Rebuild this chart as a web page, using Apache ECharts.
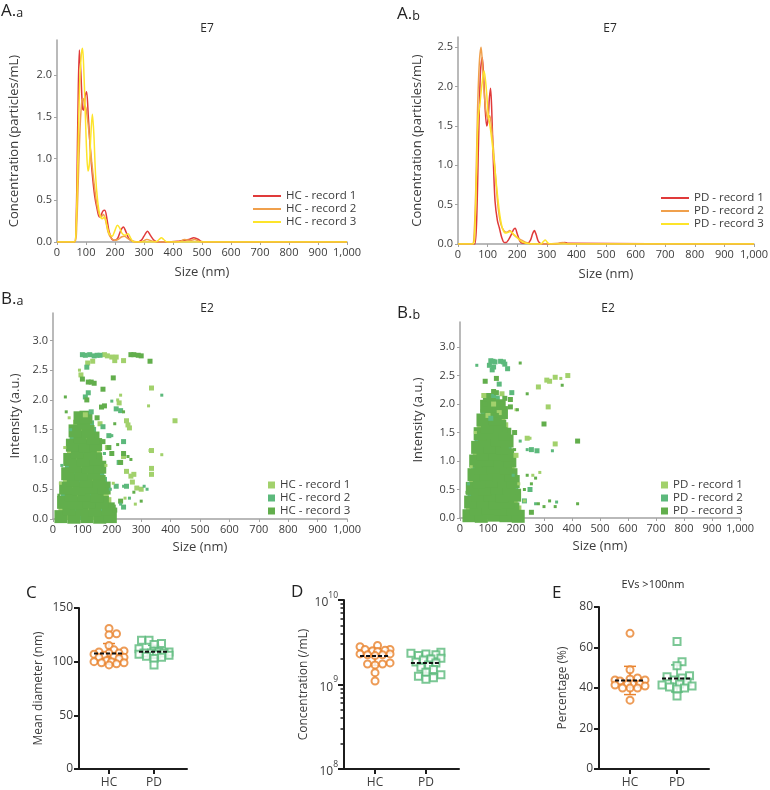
<!DOCTYPE html>
<html><head><meta charset="utf-8">
<script src="https://cdn.jsdelivr.net/npm/echarts@6/dist/echarts.min.js"></script>
<style>html,body{margin:0;padding:0;background:#fff}#c{width:770px;height:790px}</style>
</head><body><div id="c"></div>
<script>
// ================= DATA =================
// Panel A.a (HC, E7) size distributions
const aHC1Size = [0,60,66,72,77,82,88,92,97,102,108,115,122,130,138,146,152,158,165,172,180,190,200,210,220,229,238,248,260,275,290,300,312,322,335,350,380,420,440,455,472,488,500,600,1000];
const aHC1Conc = [0,0,0.25,1.5,2.3,2.05,1.6,1.58,1.75,1.8,1.5,1.1,0.8,0.55,0.4,0.3,0.32,0.37,0.38,0.28,0.12,0.03,0.02,0.05,0.14,0.18,0.12,0.04,0.01,0,0.02,0.07,0.13,0.08,0.02,0,0,0.01,0.02,0.03,0.05,0.03,0,0,0];
const aHC2Size = [0,62,68,74,80,86,90,95,100,106,112,120,128,136,144,152,160,168,176,186,198,210,222,232,245,260,290,310,330,360,420,440,460,475,490,520,1000];
const aHC2Conc = [0,0,0.2,0.8,1.4,1.7,1.72,1.65,1.6,1.45,1.25,0.95,0.7,0.48,0.35,0.3,0.33,0.25,0.12,0.05,0.02,0.03,0.06,0.07,0.04,0.01,0,0.03,0.01,0,0,0.03,0.02,0.03,0.01,0,0];
const aHC3Size = [0,60,66,72,78,84,88,92,97,102,107,112,117,122,127,133,140,148,156,164,172,180,190,200,208,216,225,235,245,255,265,280,340,352,360,368,380,1000];
const aHC3Conc = [0,0,0.2,1.0,1.9,2.25,2.32,2.1,1.6,1.1,0.85,0.95,1.3,1.53,1.3,0.8,0.5,0.32,0.28,0.3,0.2,0.1,0.07,0.14,0.2,0.17,0.1,0.08,0.1,0.04,0,0,0,0.03,0.05,0.03,0,0];
// Panel A.b (PD, E7)
const aPD1Size = [0,50,57,63,70,76,82,87,92,97,102,106,110,114,119,125,133,140,148,156,163,170,180,187,193,200,210,220,235,245,252,258,264,272,285,300,330,350,360,370,1000];
const aPD1Conc = [0,0,0,0.3,1.4,2.2,2.37,2.1,1.7,1.5,1.6,1.85,1.98,1.7,1.1,0.55,0.3,0.2,0.08,0.02,0.02,0.05,0.12,0.18,0.2,0.13,0.03,0.01,0.01,0.05,0.13,0.17,0.12,0.03,0,0,0,0.01,0.02,0.01,0];
const aPD2Size = [0,48,54,60,66,72,78,84,90,96,102,107,113,120,128,136,145,155,165,175,185,200,215,230,250,300,340,355,370,1000];
const aPD2Conc = [0,0,0.1,0.7,1.7,2.3,2.5,2.2,1.85,1.65,1.6,1.63,1.5,1.2,0.8,0.45,0.25,0.17,0.15,0.17,0.13,0.08,0.05,0.02,0,0,0.01,0.02,0,0];
const aPD3Size = [0,50,56,62,68,74,80,88,95,102,110,118,126,134,142,150,160,170,178,186,195,205,215,230,250,280,288,295,302,310,1000];
const aPD3Conc = [0,0,0.1,0.8,1.6,1.78,2.0,2.2,2.0,1.65,1.45,1.2,0.9,0.6,0.35,0.2,0.14,0.15,0.16,0.13,0.1,0.06,0.03,0.01,0,0,0.03,0.05,0.02,0,0];

// Panel B.a (HC, E2) scatter [size nm, intensity a.u.]
const bHC1Core = [[49,.05],[137,.05],[32,.16],[120,.17],[102,.28],[185,.3],[84,.39],[176,.4],[65,.53],[153,.51],[47,.64],[135,.65],[116,.76],[98,.87],[79,1.01],[155,.99],[61,1.12],[149,1.13],[132,1.24],[114,1.35],[97,1.49],[82,1.6]];
const bHC2Core = [[93,.05],[181,.05],[76,.15],[164,.16],[58,.29],[146,.27],[40,.4],[128,.41],[109,.52],[91,.63],[170,.64],[72,.77],[161,.75],[54,.88],[142,.89],[123,1],[105,1.11],[88,1.25],[70,1.36],[133,1.48],[126,1.59]];
const bHC3Core = [[27,.04],[71,.03],[115,.04],[159,.03],[195,.04],[54,.17],[98,.16],[142,.15],[188,.17],[36,.28],[80,.27],[124,.29],[168,.28],[62,.41],[106,.4],[150,.39],[43,.52],[87,.51],[131,.53],[174,.52],[69,.65],[113,.64],[157,.63],[50,.76],[94,.75],[138,.77],[76,.89],[120,.88],[159,.87],[57,1],[101,.99],[145,1.01],[83,1.13],[127,1.12],[66,1.24],[110,1.23],[145,1.25],[92,1.37],[136,1.36],[75,1.48],[119,1.47],[104,1.61],[92,1.7],[112,1.71]];
const bHC1Big = [[95,2.42],[118,2.62],[135,2.65],[175,2.76],[185,2.74],[200,2.72],[210,2.66],[240,2.66],[215,2.72],[225,1.95],[250,1.65],[255,1.58],[260,1.53],[415,1.65],[335,2.2],[335,1.15],[240,1.05],[335,0.85],[250,0.8],[265,0.72],[275,0.75],[285,0.52],[300,0.5],[185,1.2],[160,1.6],[110,1.75],[335,0.75],[270,0.62]];
const bHC1Small = [[90,2.5],[220,2.0],[325,1.9],[370,1.08],[230,2.08],[330,1.15],[205,0.6],[245,0.35],[280,0.25],[180,0.9],[55,1.7],[40,1.2],[25,0.6]];
const bHC2Big = [[100,2.76],[110,2.75],[125,2.76],[140,2.74],[150,2.75],[160,2.75],[115,2.55],[110,2.05],[120,2.12],[215,1.85],[230,1.82],[240,1.3],[215,0.55],[250,0.55],[225,0.95],[240,0.2],[130,1.8],[170,1.55],[190,1.4]];
const bHC2Small = [[370,2.08],[200,1.98],[200,1.4],[240,0.55],[320,0.5],[310,0.55],[260,0.35],[175,1.1],[230,0.25],[60,1.5],[30,0.9],[195,0.5]];
const bHC3Big = [[265,2.76],[275,2.76],[290,2.75],[300,2.74],[330,2.65],[100,2.35],[120,2.3],[130,2.3],[140,2.28],[205,2.37],[170,2.18],[115,2.0],[175,1.9],[165,1.88],[190,1.2],[200,1.1],[230,0.95],[240,1.1],[230,0.3],[205,0.2],[210,0.15],[170,1.3],[150,1.7]];
const bHC3Small = [[42,2.05],[220,1.25],[255,1.05],[275,0.45],[300,0.3],[45,1.8],[20,0.4],[210,1.6],[240,1.8],[265,1.0]];
// Panel B.b (PD, E2)
const bPD1Core = [[54,.04],[142,.05],[35,.16],[123,.17],[205,.15],[104,.28],[192,.29],[85,.4],[173,.41],[66,.52],[154,.53],[47,.64],[135,.65],[116,.76],[97,.88],[181,.87],[78,1],[166,1.01],[60,1.12],[148,1.13],[129,1.24],[110,1.36],[94,1.48],[76,1.6],[158,1.61],[148,1.72],[132,1.84],[118,1.96]];
const bPD2Core = [[98,.05],[186,.04],[79,.15],[167,.16],[60,.29],[148,.27],[41,.4],[129,.39],[110,.52],[194,.51],[91,.63],[179,.64],[72,.77],[160,.75],[53,.88],[141,.89],[122,1],[104,1.11],[85,1.25],[170,1.23],[66,1.36],[154,1.37],[138,1.48],[120,1.59],[104,1.72],[88,1.84],[128,2.08]];
const bPD3Core = [[32,.04],[76,.03],[120,.05],[164,.04],[208,.03],[57,.16],[101,.17],[145,.15],[189,.16],[38,.28],[82,.29],[126,.27],[170,.28],[63,.4],[107,.41],[151,.39],[195,.4],[44,.52],[88,.51],[132,.53],[176,.52],[69,.64],[113,.65],[157,.63],[190,.64],[50,.76],[94,.77],[138,.75],[182,.76],[75,.88],[119,.89],[163,.87],[56,1],[100,1.01],[144,.99],[178,1],[82,1.12],[126,1.13],[170,1.11],[63,1.24],[107,1.25],[151,1.23],[88,1.36],[132,1.37],[168,1.35],[72,1.48],[116,1.49],[160,1.47],[98,1.6],[142,1.61],[82,1.72],[126,1.73],[110,1.84],[148,1.85],[95,1.96],[140,1.97],[105,2.08]];
const bPD1Big = [[100,1.8],[85,2.15],[150,2.18],[385,2.5],[340,2.47],[310,2.42],[320,2.4],[280,2.3],[315,1.95],[340,1.3],[200,1.1],[240,1.4],[140,1.85],[120,2.0]];
const bPD1Small = [[360,2.45],[250,1.4],[285,0.8],[260,0.75],[200,1.9],[40,0.9],[210,0.6],[230,0.3],[55,1.5]];
const bPD2Big = [[110,2.76],[118,2.75],[125,2.74],[145,2.75],[155,2.74],[105,2.68],[120,2.65],[160,2.7],[170,2.62],[115,2.6],[140,2.35],[185,2.2],[110,1.75],[275,1.18],[255,1.2],[230,0.3],[250,0.5],[120,2.15]];
const bPD2Small = [[60,2.68],[330,1.18],[345,0.28],[240,1.2],[215,1.35],[270,0.25],[190,0.75],[30,0.6]];
const bPD3Big = [[130,2.45],[90,2.4],[130,2.2],[120,2.22],[160,2.1],[180,2.08],[90,2.0],[150,2.0],[180,1.95],[130,1.8],[300,1.65],[195,1.5],[420,1.35],[255,0.1],[160,1.55]];
const bPD3Small = [[215,2.72],[240,2.18],[365,2.33],[205,1.9],[420,0.25],[300,0.2],[340,0.2],[320,0.3],[240,0.75],[270,0.7],[255,0.6],[230,0.5],[280,0.25],[195,1.2],[25,0.45]];

// Panels C, D, E (per subject values)
const groupNames = ['HC', 'PD'];
const cHC = [131,126,125,115,111,110,109,108,108,107,106,105,104,104,103,101,100,100,99,99,98,97];
const cPD = [120,120,117,116,112,110,109,109,108,108,108,107,107,106,105,104,103,97];
const dHC = [2.9e9,2.8e9,2.6e9,2.6e9,2.55e9,2.5e9,2.45e9,2.3e9,2.3e9,2.25e9,2.25e9,2.2e9,1.8e9,1.75e9,1.75e9,1.7e9,1.38e9,1.1e9];
const dPD = [2.4e9,2.35e9,2.3e9,2.25e9,2.2e9,2.05e9,2.0e9,1.95e9,1.85e9,1.8e9,1.7e9,1.6e9,1.5e9,1.4e9,1.3e9,1.25e9,1.2e9,1.15e9];
const eHC = [67,49,45,44.5,44,44,43.5,42,42,42,41.5,41,40,40,40,34];
const ePD = [63,53,51,46,45.5,45,44,43,42,41.5,41,40.5,40,39.5,36];

const sizeTicks = [0,100,200,300,400,500,600,700,800,900,1000];
const concTicksA = [0,0.5,1,1.5,2];
const concTicksB = [0,0.5,1,1.5,2,2.5];
const intTicks = [0,0.5,1,1.5,2,2.5,3];
const cTicks = [0,50,100,150];
const eTicks = [0,20,40,60,80];

// ================= STYLE / BUILD =================
const FONT = '"Open Sans", sans-serif';
const AXC = '#a3a3a3', TXT = '#3c3c3c', BLK = '#1c1c1c';
const RED = '#e03a3a', ORG = '#f0a04c', YEL = '#fde42a';
const G1 = '#a2d16c', G2 = '#5cb97c', G3 = '#62ae4c';
const HCC = '#e8822c', PDC = '#5ab97a';

const pairs = (xs, ys) => xs.map((x, i) => [x, ys[i]]);

const grids = [
  {left:57, top:40, width:290, height:202},
  {left:458, top:37, width:296, height:207},
  {left:53, top:313, width:294, height:206},
  {left:460, top:322, width:280, height:196},
  {left:79, top:608, width:108, height:161},
  {left:344, top:600, width:115, height:169},
  {left:599, top:607, width:110, height:162}
].map(g => Object.assign({outerBoundsMode:'none', containLabel:false}, g));

function sizeAxis(gi, gap) {
  return {type:'value', gridIndex:gi, min:0, max:1000, interval:100,
    name:'Size (nm)', nameLocation:'middle', nameGap:gap,
    nameTextStyle:{fontSize:13, color:TXT, fontFamily:FONT},
    axisLine:{show:true, onZero:false, lineStyle:{color:AXC, width:1.5}},
    axisTick:{show:true, length:3, customValues:sizeTicks, lineStyle:{color:AXC}},
    axisLabel:{customValues:sizeTicks, fontSize:11, color:TXT, fontFamily:FONT, margin:5, hideOverlap:false,
      formatter: v => v >= 1000 ? String(v).replace(/(\d)(\d{3})$/, '$1,$2') : String(v)},
    splitLine:{show:false}};
}
function valAxis(gi, max, ticks, name, gap) {
  return {type:'value', gridIndex:gi, min:0, max:max, name:name, nameLocation:'middle', nameGap:gap,
    nameTextStyle:{fontSize:13, color:TXT, fontFamily:FONT},
    axisLine:{show:true, onZero:false, lineStyle:{color:AXC, width:1.5}},
    axisTick:{show:true, length:3, customValues:ticks, lineStyle:{color:AXC}},
    axisLabel:{customValues:ticks, fontSize:11, color:TXT, fontFamily:FONT, margin:5, formatter: v => v.toFixed(1)},
    splitLine:{show:false}};
}
function groupAxis(gi, min, max) {
  return {type:'value', gridIndex:gi, min:min, max:max,
    axisLine:{show:true, onZero:false, lineStyle:{color:BLK, width:2}},
    axisTick:{show:true, length:5, customValues:[0,1], lineStyle:{color:BLK, width:2}},
    axisLabel:{customValues:[0,1], formatter: v => groupNames[Math.round(v)], fontSize:12, color:TXT, fontFamily:FONT, margin:8},
    splitLine:{show:false}};
}
function stripY(gi, max, ticks, name, gap) {
  return {type:'value', gridIndex:gi, min:0, max:max, name:name, nameLocation:'middle', nameGap:gap,
    nameTextStyle:{fontSize:12, color:TXT, fontFamily:FONT},
    axisLine:{show:true, onZero:false, lineStyle:{color:BLK, width:2}},
    axisTick:{show:true, length:5, customValues:ticks, lineStyle:{color:BLK, width:2}},
    axisLabel:{customValues:ticks, fontSize:12, color:TXT, fontFamily:FONT, margin:6},
    splitLine:{show:false}};
}

const minorLogs = [];
for (let d = 8; d < 10; d++) for (let k = 2; k <= 9; k++) minorLogs.push(d + Math.log10(k));

const xAxis = [sizeAxis(0, 24), sizeAxis(1, 24), sizeAxis(2, 22), sizeAxis(3, 22),
  groupAxis(4, -0.667, 1.733), groupAxis(5, -0.61, 1.65), groupAxis(6, -0.66, 1.68)];
const yAxis = [
  valAxis(0, 2.42, concTicksA, 'Concentration (particles/mL)', 36),
  valAxis(1, 2.63, concTicksB, 'Concentration (particles/mL)', 34),
  valAxis(2, 3.46, intTicks, 'Intensity (a.u.)', 31),
  valAxis(3, 3.44, intTicks, 'Intensity (a.u.)', 35),
  stripY(4, 150, cTicks, 'Mean diameter (nm)', 34),
  {type:'log', logBase:10, gridIndex:5, min:1e8, max:1e10,
    name:'Concentration (/mL)', nameLocation:'middle', nameGap:34,
    nameTextStyle:{fontSize:12, color:TXT, fontFamily:FONT},
    axisLine:{show:true, onZero:false, lineStyle:{color:BLK, width:2}},
    axisTick:{show:true, length:6, lineStyle:{color:BLK, width:2}},
    axisLabel:{fontSize:12, color:TXT, fontFamily:FONT, margin:6,
      formatter: v => '{b|10}{s|' + Math.round(Math.log10(v)) + '}',
      rich:{b:{fontSize:12, lineHeight:18, verticalAlign:'bottom', color:TXT, fontFamily:FONT},
            s:{fontSize:8.5, lineHeight:9, verticalAlign:'top', color:TXT, fontFamily:FONT}}},
    splitLine:{show:false}, minorTick:{show:false}},
  stripY(6, 80, eTicks, 'Percentage (%)', 30),
  {type:'value', gridIndex:5, position:'left', offset:0, min:8, max:10,
    axisLine:{show:false, onZero:false}, axisLabel:{show:false}, splitLine:{show:false},
    axisTick:{show:true, length:3.5, customValues:minorLogs, lineStyle:{color:BLK, width:1.5}}}
];

const series = [];
function lineS(name, gi, xs, ys, color) {
  series.push({type:'line', name:name, xAxisIndex:gi, yAxisIndex:gi, data:pairs(xs, ys),
    smooth:0.3, symbol:'none', lineStyle:{color:color, width:1.5}, itemStyle:{color:color}, z:3});
}
lineS('HC - record 1', 0, aHC1Size, aHC1Conc, RED);
lineS('HC - record 2', 0, aHC2Size, aHC2Conc, ORG);
lineS('HC - record 3', 0, aHC3Size, aHC3Conc, YEL);
lineS('PD - record 1', 1, aPD1Size, aPD1Conc, RED);
lineS('PD - record 2', 1, aPD2Size, aPD2Conc, ORG);
lineS('PD - record 3', 1, aPD3Size, aPD3Conc, YEL);

function scat(name, gi, data, color, size) {
  series.push({type:'scatter', name:name, xAxisIndex:gi, yAxisIndex:gi, data:data,
    symbol:'rect', symbolSize:size, itemStyle:{color:color, opacity:1}, z:3});
}
[[2,'HC',[bHC1Core,bHC1Big,bHC1Small],[bHC2Core,bHC2Big,bHC2Small],[bHC3Core,bHC3Big,bHC3Small]],
 [3,'PD',[bPD1Core,bPD1Big,bPD1Small],[bPD2Core,bPD2Big,bPD2Small],[bPD3Core,bPD3Big,bPD3Small]]]
.forEach(([gi, g, r1, r2, r3]) => {
  const recs = [[r1, G1], [r2, G2], [r3, G3]];
  const sizes = [[8, 8, 13], [5, 5, 5], [3, 3, 3]];
  for (let k = 0; k < 3; k++) recs.forEach(([r, col], i) => scat(g + ' - record ' + (i + 1) + '#B', gi, r[k], col, sizes[k][i]));
});

// deterministic, compact beeswarm offsets (pixels)
function swarm(vals, toPx, d, W) {
  const idx = vals.map((v, i) => i).sort((a, b) => vals[a] - vals[b]);
  const placed = [], off = new Array(vals.length).fill(0);
  idx.forEach(i => {
    const y = toPx(vals[i]);
    let best = 0, bestD = -1;
    for (let k = 0; k <= 2 * Math.floor(W / 2.5); k++) {
      const dx = (k % 2 ? 1 : -1) * Math.ceil(k / 2) * 2.5;
      const md = placed.length ? Math.min(...placed.map(p => Math.hypot(p[0] - dx, p[1] - y))) : 99;
      if (md >= d) { best = dx; bestD = md; break; }
      if (md > bestD) { bestD = md; best = dx; }
    }
    off[i] = best; placed.push([best, y]);
  });
  return off;
}
const mean = a => a.reduce((s, v) => s + v, 0) / a.length;
const sd = a => { const m = mean(a); return Math.sqrt(a.reduce((s, v) => s + (v - m) * (v - m), 0) / (a.length - 1)); };

function strip(gi, yi, vals, pos, color, symbol, toPx) {
  const m = mean(vals), s = sd(vals);
  series.push({type:'custom', xAxisIndex:gi, yAxisIndex:yi, z:2, silent:true,
    data:[[pos, m, m - s, m + s]], encode:{x:0, y:[1,2,3]},
    renderItem:(params, api) => {
      const pl = api.coord([api.value(0), api.value(2)]);
      const ph = api.coord([api.value(0), api.value(3)]);
      const st = {stroke:color, lineWidth:1.5};
      return {type:'group', children:[
        {type:'line', shape:{x1:pl[0], y1:pl[1], x2:ph[0], y2:ph[1]}, style:st},
        {type:'line', shape:{x1:pl[0]-6, y1:pl[1], x2:pl[0]+6, y2:pl[1]}, style:st},
        {type:'line', shape:{x1:ph[0]-6, y1:ph[1], x2:ph[0]+6, y2:ph[1]}, style:st}
      ]};
    }});
  const off = swarm(vals, toPx, 6, 17);
  series.push({type:'scatter', xAxisIndex:gi, yAxisIndex:yi, z:3, symbol:symbol, symbolSize:7,
    itemStyle:{color:color, borderWidth:1.8},
    data: vals.map((v, i) => ({value:[pos, v], symbolOffset:[off[i], 0]}))});
  series.push({type:'custom', xAxisIndex:gi, yAxisIndex:yi, z:4, silent:true,
    data:[[pos, m]], encode:{x:0, y:1},
    renderItem:(params, api) => {
      const pm = api.coord([api.value(0), api.value(1)]);
      return {type:'line', shape:{x1:pm[0]-15, y1:pm[1], x2:pm[0]+15, y2:pm[1]},
        style:{stroke:'#111', lineWidth:2, lineDash:[4, 2]}};
    }});
}
const cPx = v => v * 161 / 150, dPx = v => Math.log10(v) * 84.5, ePx = v => v * 162 / 80;
strip(4, 4, cHC, 0, HCC, 'emptyCircle', cPx);
strip(4, 4, cPD, 1, PDC, 'emptyRect', cPx);
strip(5, 5, dHC, 0, HCC, 'emptyCircle', dPx);
strip(5, 5, dPD, 1, PDC, 'emptyRect', dPx);
strip(6, 6, eHC, 0, HCC, 'emptyCircle', ePx);
strip(6, 6, ePD, 1, PDC, 'emptyRect', ePx);

const legTxt = {fontSize:11.5, color:TXT, fontFamily:FONT, lineHeight:13};
const legend = [
  {left:248, top:184.5, orient:'vertical', itemWidth:28, itemHeight:2, itemGap:0, icon:'rect', textStyle:legTxt,
    data:['HC - record 1','HC - record 2','HC - record 3'], selectedMode:false},
  {left:656, top:186.5, orient:'vertical', itemWidth:28, itemHeight:2, itemGap:0, icon:'rect', textStyle:legTxt,
    data:['PD - record 1','PD - record 2','PD - record 3'], selectedMode:false},
  {left:263, top:473.5, orient:'vertical', itemWidth:7, itemHeight:7, itemGap:0, icon:'rect', textStyle:legTxt,
    data:['HC - record 1#B','HC - record 2#B','HC - record 3#B'], formatter: n => n.split('#')[0], selectedMode:false},
  {left:656, top:473.5, orient:'vertical', itemWidth:7, itemHeight:7, itemGap:0, icon:'rect', textStyle:legTxt,
    data:['PD - record 1#B','PD - record 2#B','PD - record 3#B'], formatter: n => n.split('#')[0], selectedMode:false}
];

function txt(x, y, text, size, align) {
  return {type:'text', x:x, y:y, style:{text:text, fontSize:size, fontFamily:FONT, fill:'#2a2a2a',
    textAlign:align || 'center', textVerticalAlign:'middle'}};
}
function letter(x, y, big, small) {
  return {type:'text', x:x, y:y, style:{text:'{b|' + big + '}' + (small ? '{s|' + small + '}' : ''),
    fontFamily:FONT, fill:'#222', textAlign:'left', textVerticalAlign:'top',
    rich:{b:{fontSize:17, fontFamily:FONT, fill:'#222', verticalAlign:'bottom', lineHeight:20},
          s:{fontSize:12.5, fontFamily:FONT, fill:'#222', verticalAlign:'bottom', lineHeight:18}}}};
}
const graphic = [
  txt(207, 29, 'E7', 12), txt(610, 29, 'E7', 12), txt(207, 309, 'E2', 12), txt(608, 309, 'E2', 12),
  txt(653, 585, 'EVs >100nm', 11),
  letter(1, 0, 'A.', 'a'), letter(397, 3, 'A.', 'b'), letter(1, 288, 'B.', 'a'), letter(397, 302, 'B.', 'b'),
  letter(26, 582, 'C'), letter(291, 581, 'D'), letter(552, 582, 'E')
];

const chart = echarts.init(document.getElementById('c'), null, {renderer:'canvas'});
chart.setOption({animation:false, backgroundColor:'#fff', textStyle:{fontFamily:FONT},
  grid:grids, xAxis:xAxis, yAxis:yAxis, series:series, legend:legend, graphic:graphic, tooltip:{show:false}});
</script></body></html>
